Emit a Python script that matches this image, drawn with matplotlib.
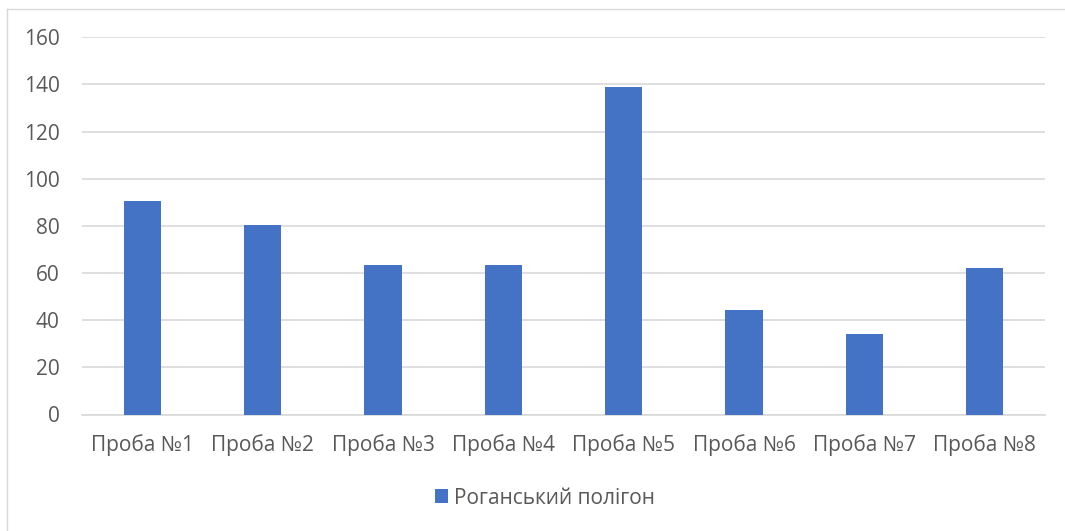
import matplotlib
matplotlib.use('Agg')
from matplotlib import pyplot
from matplotlib.lines import Line2D

categories = ['Проба №1', 'Проба №2', 'Проба №3', 'Проба №4',
              'Проба №5', 'Проба №6', 'Проба №7', 'Проба №8']
values = [90.5, 80.4, 63.3, 63.3, 138.9, 44.4, 34.0, 62.2]
series_name = 'Роганський полігон'
y_ticks = [0, 20, 40, 60, 80, 100, 120, 140, 160]

pyplot.rcParams['font.family'] = ['Open Sans', 'DejaVu Sans']

W, H = 1065, 531
fig = pyplot.figure(figsize=(W / 100, H / 100), dpi=100)
ax = fig.add_axes([82 / W, (H - 414.5) / H, (1045 - 82) / W, (414.5 - 37.3) / H])

x = list(range(len(categories)))
ax.bar(x, values, width=0.31, color='#4472C4', zorder=3, label=series_name)

ax.set_xlim(-0.5, len(categories) - 0.5)
ax.set_ylim(0, 160)
ax.set_yticks(y_ticks)
ax.set_xticks(x)
ax.set_xticklabels(categories)
ax.yaxis.grid(True, color='#d9d9d9', linewidth=1.2, zorder=0)
for side in ['top', 'right', 'left']:
    ax.spines[side].set_visible(False)
ax.spines['bottom'].set_color('#d9d9d9')
ax.spines['bottom'].set_linewidth(1.2)
ax.tick_params(axis='both', length=0, labelsize=15, colors='#595959')
ax.tick_params(axis='x', pad=14)
ax.tick_params(axis='y', pad=16)

fig.legend(loc='center', bbox_to_anchor=(545 / W, (H - 498) / H),
           frameon=False, fontsize=15, labelcolor='#595959',
           handlelength=0.62, handleheight=0.62, handletextpad=0.3)

# chart-area border: only the top and left edges show in the crop
border = dict(transform=fig.transFigure, color='#d9d9d9', linewidth=1)
fig.lines.append(Line2D([7 / W, 1.0], [1 - 8.5 / H, 1 - 8.5 / H], **border))
fig.lines.append(Line2D([7 / W, 7 / W], [0.0, 1 - 8.5 / H], **border))

fig.savefig('out.png', dpi=100)
